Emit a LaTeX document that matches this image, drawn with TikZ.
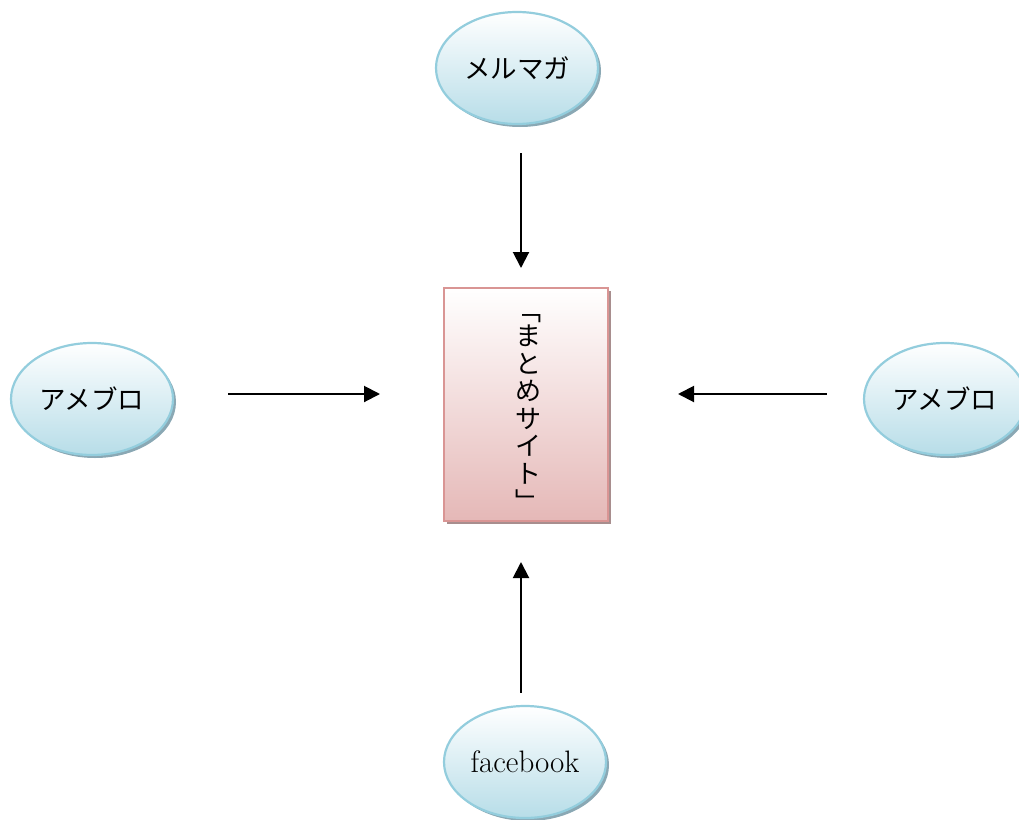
\documentclass[tikz,border=0pt]{standalone}
\usepackage{fontspec}
\newfontfamily\jp{Noto Sans CJK JP}
\usepackage{tikz}
\usetikzlibrary{shapes.geometric,shadows,arrows.meta,positioning}

\definecolor{mediaborder}{HTML}{93CDDD}
\definecolor{mediafill}{HTML}{B7DDE8}
\definecolor{mediashadow}{HTML}{8AA8B4}
\definecolor{siteborder}{HTML}{D99594}
\definecolor{sitefill}{HTML}{E5B8B7}
\definecolor{siteshadow}{HTML}{A88E8E}

\begin{document}
\begin{tikzpicture}[x=1pt, y=-1pt, >={Triangle[length=16pt,width=16pt]}, line width=2pt]
\tikzstyle{media}=[ellipse, draw=mediaborder, line width=2.2pt, top color=white, bottom color=mediafill, minimum width=162pt, minimum height=112pt, inner sep=0pt, drop shadow={shadow xshift=3pt, shadow yshift=-3pt, fill=mediashadow, opacity=1}, font=\fontsize{26.5}{30}\selectfont]
\tikzstyle{site}=[rectangle, draw=siteborder, line width=2pt, top color=white, bottom color=sitefill, minimum width=164pt, minimum height=233pt, inner sep=0pt, drop shadow={shadow xshift=3pt, shadow yshift=-3pt, fill=siteshadow, opacity=1}]
\useasboundingbox (0,0) rectangle (1019,819);
\node[site]     (matome) at (526,404.5) {};
\node[font=\jp\fontsize{26}{27.5}\selectfont, align=center, inner sep=0pt] (matomet) at (528,413) {﹁\\[-2pt]ま\\と\\め\\サ\\イ\\ト\\[1pt]﹂};
\node[media]    (melmaga)  at (517,68)  {\jp メルマガ};
\node[media]    (ameL)     at (92,399)  {\jp アメブロ};
\node[media]    (ameR)     at (945,399) {\jp アメブロ};
\node[media]    (fb)       at (525,762) {\fontsize{31}{36}\selectfont facebook};
\draw[->, shorten <=28pt, shorten >=19pt] ([xshift=4pt]melmaga.south) -- ([xshift=-5pt]matome.north);
\draw[->, shorten <=54pt, shorten >=63pt] ([yshift=5pt]ameL.east) -- ([yshift=10.5pt]matome.west);
\draw[->, shorten <=36pt, shorten >=69pt] ([yshift=5pt]ameR.west) -- ([yshift=10.5pt]matome.east);
\draw[->, shorten <=12pt, shorten >=40pt] ([xshift=-4pt]fb.north) -- ([xshift=-5pt]matome.south);
\end{tikzpicture}
\end{document}
